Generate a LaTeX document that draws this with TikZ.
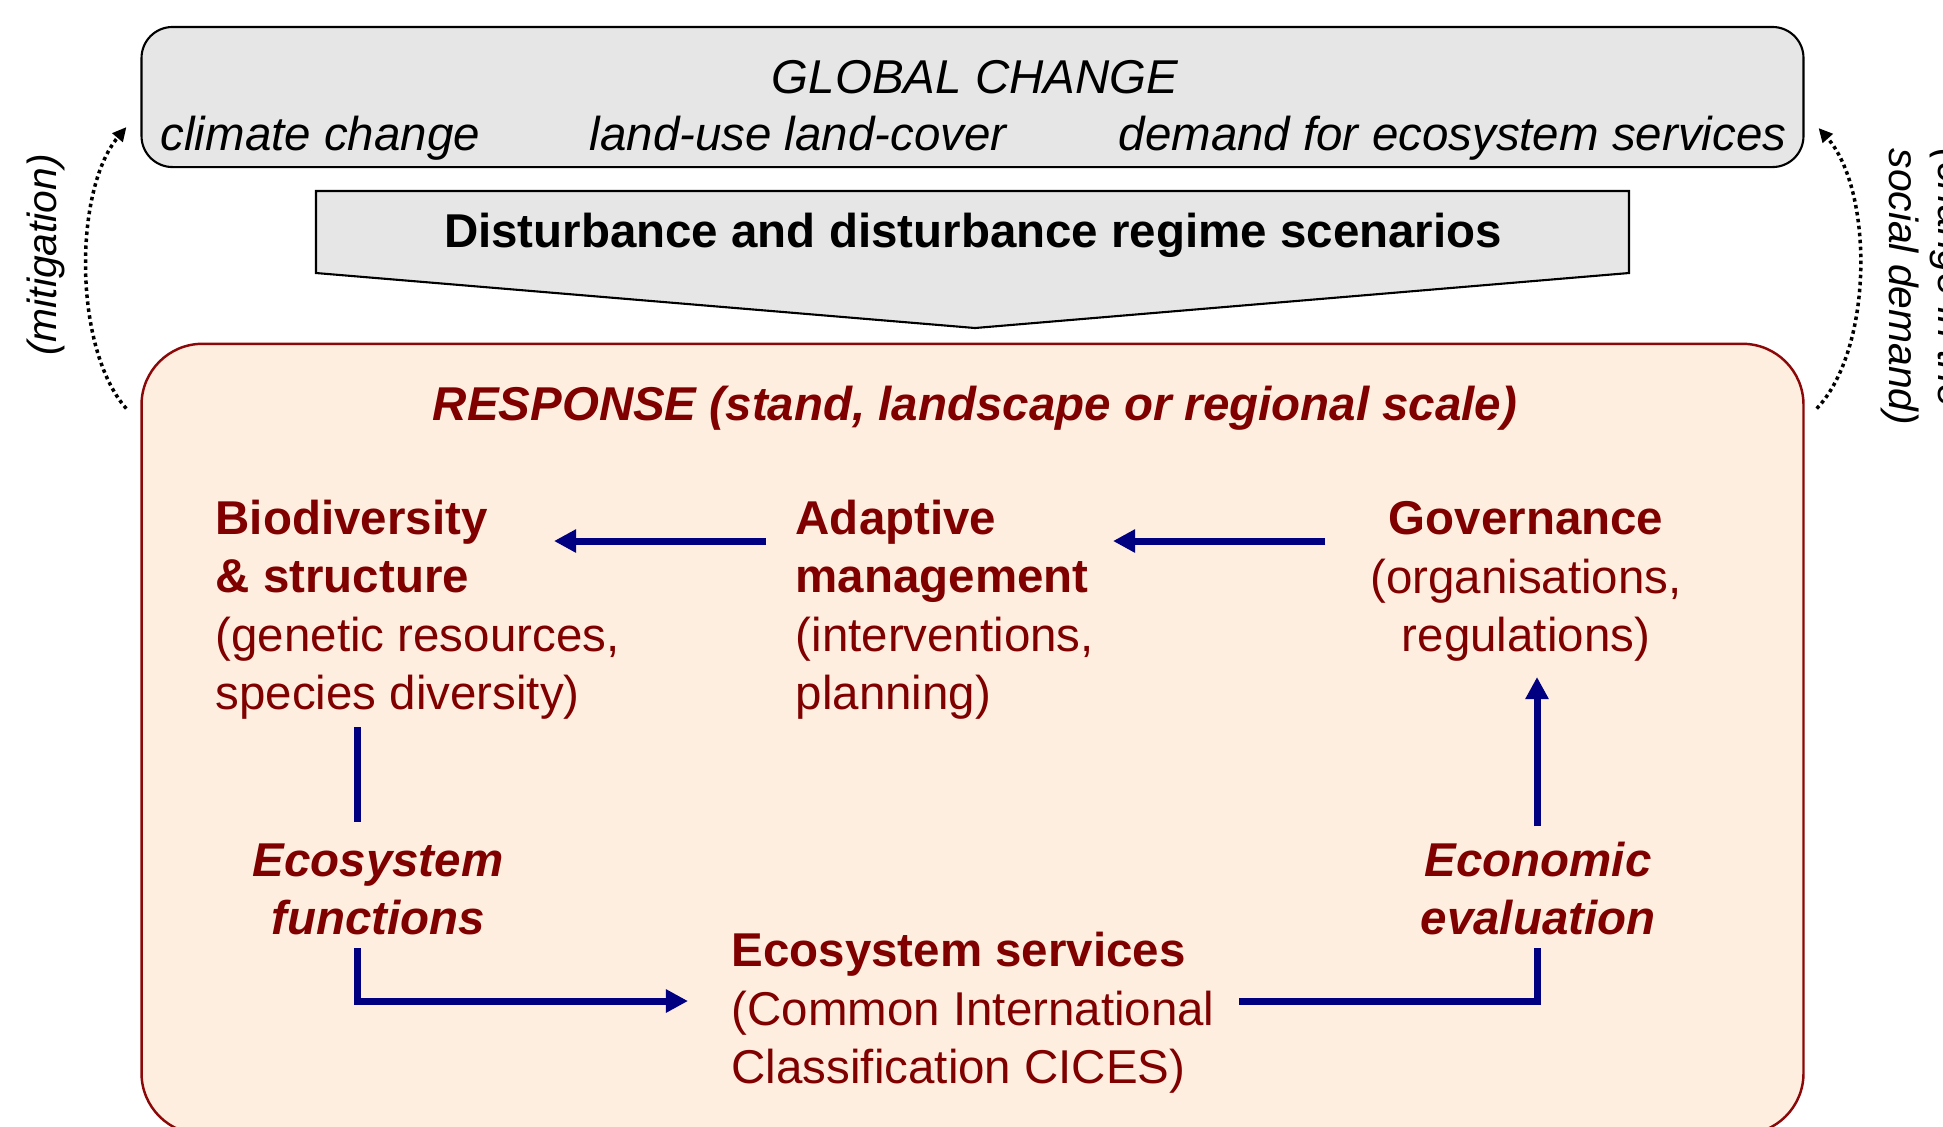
\documentclass[tikz,border=0pt]{standalone}
\usepackage{fontspec}
\setmainfont{Liberation Sans}
\usepackage{xcolor}
\usetikzlibrary{arrows.meta}
\definecolor{panelgray}{RGB}{230,230,230}
\definecolor{respfill}{RGB}{253,238,224}
\definecolor{respline}{RGB}{140,8,8}
\definecolor{resptext}{RGB}{128,0,0}
\definecolor{flowblue}{RGB}{0,0,128}
\newcommand{\txt}{\fontsize{13.5pt}{16.5pt}\selectfont}
\newcommand{\sidetxt}{\fontsize{11.6pt}{14pt}\selectfont}

\begin{document}
\begin{tikzpicture}[
  x=0.01cm, y=-0.01cm,
  every node/.style={font=\txt, inner sep=0pt},
  panel/.style={draw=black, line width=0.6pt, fill=panelgray, rounded corners=0.31cm,
                minimum width=16.61cm, minimum height=1.40cm},
  resp/.style={draw=respline, line width=0.7pt, fill=respfill, rounded corners=0.61cm,
               minimum width=16.61cm, minimum height=7.90cm},
  gtext/.style={font=\txt\itshape, anchor=base west},
  entry/.style={text=resptext, align=left, anchor=base west},
  heading/.style={text=resptext, align=center, anchor=base, font=\txt\bfseries\itshape},
  arr/.style={-{Triangle[length=0.22cm, width=0.22cm]}, draw=flowblue, line width=0.07cm},
  link/.style={draw=flowblue, line width=0.07cm},
  feedback/.style={-{Triangle[length=0.14cm, width=0.13cm]}, line width=0.035cm,
                   dash pattern=on 0.035cm off 0.035cm}
]
\useasboundingbox (0,0) rectangle (1943,1126);

% global change panel
\node[panel] (G) at (972.5,97) {};
\node[font=\txt\itshape, anchor=base] (GC) at (975,93) {GLOBAL CHANGE};
\node[gtext] (cc) at (160,150) {climate change};
\node[gtext] (lu) at (589,150) {land-use land-cover};
\node[gtext] (ds) at (1118,150) {demand for ecosystem services};

% scenario arrow
\draw[line width=0.6pt, fill=panelgray] (316,191) -- (1629,191) -- (1629,273) -- (975,328) -- (316,273) -- cycle;
\node[font=\txt\bfseries, anchor=base] (D) at (973,247) {Disturbance and disturbance regime scenarios};

% response panel (base anchors sit on the last line)
\node[resp] (R) at (972.5,739) {};
\node[heading] (RH) at (975,420) {RESPONSE (stand, landscape or regional scale)};

\node[entry] (B) at (215,709) {\textbf{Biodiversity}\\\textbf{\& structure}\\(genetic resources,\\species diversity)};
\node[entry] (A) at (795,709) {\textbf{Adaptive}\\\textbf{management}\\(interventions,\\planning)};
\node[entry, align=center, anchor=base] (Gv) at (1526,651) {\textbf{Governance}\\(organisations,\\regulations)};
\node[heading] (EF) at (378,934) {Ecosystem\\functions};
\node[heading] (EE) at (1538,934) {Economic\\evaluation};
\node[entry] (ES) at (731,1083) {\textbf{Ecosystem services}\\(Common International\\Classification CICES)};

% flows
\draw[arr] ([shift={(-201,-110)}]Gv.base) -- ([shift={(318,-168)}]A.base west);
\draw[arr] ([shift={(-29,-168)}]A.base west) -- ([shift={(339,-168)}]B.base west);
\draw[link] ([shift={(142,18)}]B.base west) -- ([shift={(-21,-112)}]EF.base);
\draw[arr] ([shift={(-21,14)}]EF.base) |- ([shift={(-43,-82)}]ES.base west);
\draw[link] ([shift={(508,-82)}]ES.base west) -| ([shift={(-1,14)}]EE.base);
\draw[arr] ([shift={(-1,-108)}]EE.base) -- ([shift={(11,26)}]Gv.base);

% feedback to global change
\draw[feedback] ([shift={(-14,66)}]R.north west) .. controls +(-53,-60) and +(-53,63) .. ([shift={(-14,30)}]G.west);
\draw[feedback] ([shift={(12,66)}]R.north east) .. controls +(57,-60) and +(55,62) .. ([shift={(14,31)}]G.east);
\node[font=\sidetxt\itshape, rotate=90] (M) at (46,255) {(mitigation)};
\node[font=\sidetxt\itshape, rotate=-90, align=left, anchor=south west] (SD) at (1880,148) {(change in the\\social demand)};
\end{tikzpicture}
\end{document}
